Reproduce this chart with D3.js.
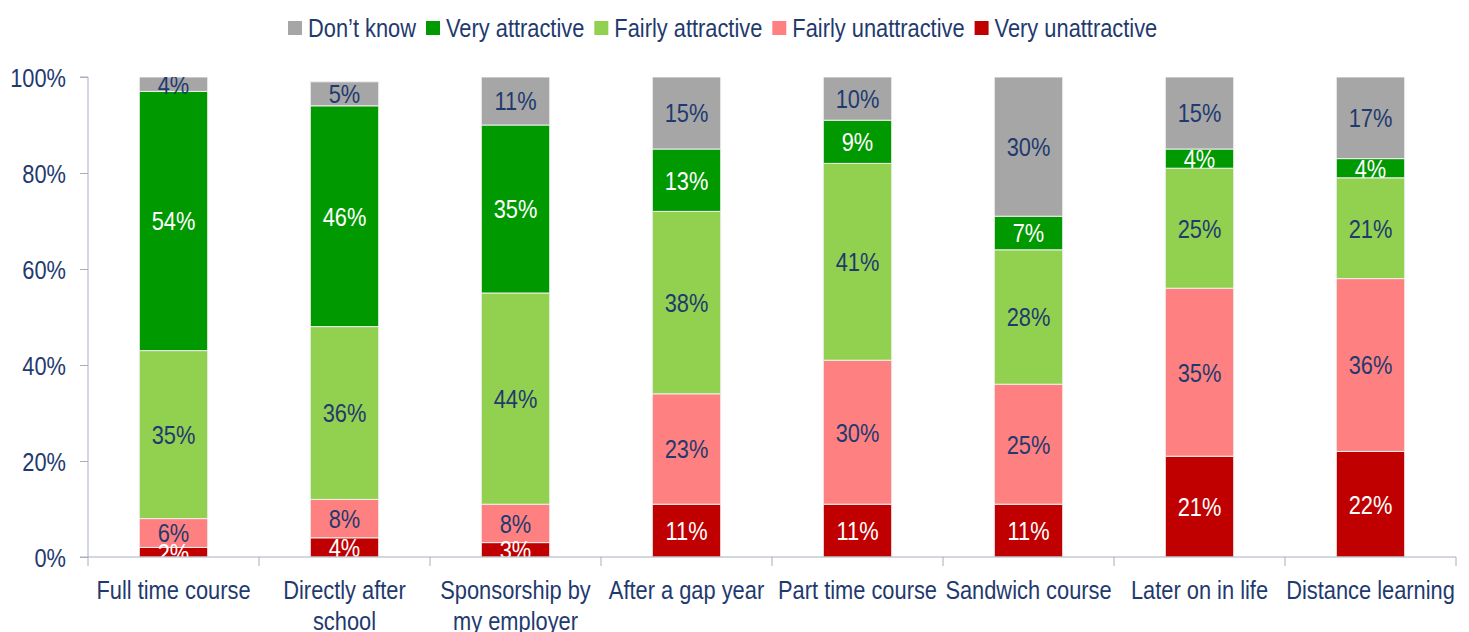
<!DOCTYPE html>
<html>
<head>
<meta charset="utf-8">
<script src="https://cdn.jsdelivr.net/npm/d3@7"></script>
<style>
  body { margin: 0; background: #fff; }
  svg text { font-family: "Liberation Sans", Arial, sans-serif; }
</style>
</head>
<body>
<svg id="chart" width="1469" height="632"></svg>
<script>
// values, one array per series (percent)
var categories = ['Full time course', 'Directly after school', 'Sponsorship by my employer', 'After a gap year',
	'Part time course', 'Sandwich course', 'Later on in life', 'Distance learning'];
var categoryLines = [['Full time course'], ['Directly after', 'school'], ['Sponsorship by', 'my employer'], ['After a gap year'],
	['Part time course'], ['Sandwich course'], ['Later on in life'], ['Distance learning']];
var veryUnattractive   = [2, 4, 3, 11, 11, 11, 21, 22];
var fairlyUnattractive = [6, 8, 8, 23, 30, 25, 35, 36];
var fairlyAttractive   = [35, 36, 44, 38, 41, 28, 25, 21];
var veryAttractive     = [54, 46, 35, 13, 9, 7, 4, 4];
var dontKnow           = [4, 5, 11, 15, 10, 30, 15, 17];
var yTicks = [0, 20, 40, 60, 80, 100];

// stacking order bottom -> top
var series = [
	{name: 'Very unattractive', values: veryUnattractive, color: '#C00000', text: '#fff'},
	{name: 'Fairly unattractive', values: fairlyUnattractive, color: '#FF8080', text: '#1F3A6E'},
	{name: 'Fairly attractive', values: fairlyAttractive, color: '#92D050', text: '#1F3A6E'},
	{name: 'Very attractive', values: veryAttractive, color: '#009900', text: '#fff'},
	{name: "Don\u2019t know", values: dontKnow, color: '#A6A6A6', text: '#1F3A6E'}
];
var legendOrder = [4, 3, 2, 1, 0];

var navy = '#1F3A6E';
var axisColor = '#A9AEBE';
var fontSize = 26;
var narrow = 0.84; // squeeze Liberation Sans to look like Arial Narrow

var svg = d3.select('#chart');
var plotLeft = 88, plotRight = 1456, plotTop = 77, plotBottom = 557;

// place a text with the narrow squeeze
function place(sel, fx, fy) {
	sel.attr('transform', function (d, i) {
		return 'translate(' + fx(d, i) + ',' + fy(d, i) + ') scale(' + narrow + ',1)';
	});
}

var x = d3.scaleBand().domain(categories).range([plotLeft, plotRight]).paddingInner(0.6).paddingOuter(0.3);
var y = d3.scaleLinear().domain([0, 100]).range([plotBottom, plotTop]);

var stackRows = categories.map(function (c, i) {
	var row = {cat: c};
	series.forEach(function (s) { row[s.name] = s.values[i]; });
	return row;
});
var stacked = d3.stack().keys(series.map(function (s) { return s.name; }))(stackRows);

svg.append('clipPath').attr('id', 'plot-clip')
	.append('rect').attr('x', plotLeft).attr('y', plotTop).attr('width', plotRight - plotLeft).attr('height', plotBottom - plotTop);

var plot = svg.append('g').attr('clip-path', 'url(#plot-clip)');

stacked.forEach(function (layer, k) {
	var s = series[k];
	plot.append('g').selectAll('rect').data(layer).enter().append('rect')
		.attr('x', function (d) { return x(d.data.cat); })
		.attr('width', x.bandwidth())
		.attr('y', function (d) { return y(Math.min(d[1], 100)); })
		.attr('height', function (d) { return y(d[0]) - y(Math.min(d[1], 100)); })
		.attr('fill', s.color)
		.attr('stroke', '#eeeeee')
		.attr('stroke-width', 1);
});

// labels drawn after all bars, centred in the visible part of each segment
stacked.forEach(function (layer, k) {
	var s = series[k];
	var lab = plot.append('g').selectAll('text').data(layer).enter().append('text')
		.attr('dy', '0.36em')
		.attr('text-anchor', 'middle')
		.attr('font-size', fontSize)
		.attr('fill', s.text)
		.text(function (d) { return (d[1] - d[0]) + '%'; });
	place(lab, function (d) { return x(d.data.cat) + x.bandwidth() / 2; },
		function (d) { return (y(d[0]) + y(Math.min(d[1], 100))) / 2; });
});

// y axis
var yAxis = svg.append('g').attr('transform', 'translate(' + plotLeft + ',0)')
	.call(d3.axisLeft(y).tickValues(yTicks).tickSize(8).tickPadding(14)
		.tickFormat(function (d) { return d + '%'; }));
yAxis.select('.domain').attr('stroke', axisColor).attr('d', 'M-8,' + plotTop + 'H0V' + plotBottom);
yAxis.selectAll('.tick line').attr('stroke', axisColor);
yAxis.selectAll('.tick text').attr('fill', navy).attr('font-size', fontSize).attr('font-family', null)
	.attr('x', null).attr('dy', '0.36em');
place(yAxis.selectAll('.tick text'), function () { return -22; }, function () { return 0; });

// x axis: line plus ticks at category boundaries
var xAxis = svg.append('g');
xAxis.append('line').attr('x1', plotLeft - 8).attr('x2', plotRight).attr('y1', plotBottom).attr('y2', plotBottom)
	.attr('stroke', axisColor);
xAxis.selectAll('line.tick').data(d3.range(categories.length + 1)).enter().append('line')
	.attr('class', 'tick')
	.attr('x1', function (i) { return plotLeft + i * x.step(); })
	.attr('x2', function (i) { return plotLeft + i * x.step(); })
	.attr('y1', plotBottom).attr('y2', plotBottom + 9)
	.attr('stroke', axisColor);
var xl = xAxis.selectAll('text').data(categories).enter().append('text')
	.attr('text-anchor', 'middle')
	.attr('font-size', fontSize)
	.attr('fill', navy);
place(xl, function (d) { return x(d) + x.bandwidth() / 2; }, function () { return 599; });
xl.each(function (d, i) {
	var t = d3.select(this);
	categoryLines[i].forEach(function (line, j) {
		t.append('tspan').attr('x', 0).attr('dy', j === 0 ? 0 : 31).text(line);
	});
});

// legend
var legend = svg.append('g');
var lx = 288;
legendOrder.forEach(function (k) {
	var s = series[k];
	legend.append('rect').attr('x', lx).attr('y', 21).attr('width', 14).attr('height', 14).attr('fill', s.color);
	var t = legend.append('text').attr('dy', '0.36em')
		.attr('font-size', fontSize).attr('fill', navy).text(s.name);
	place(t, function () { return lx + 20; }, function () { return 28; });
	lx += 20 + t.node().getComputedTextLength() * narrow + 10;
});
</script>
</body>
</html>
